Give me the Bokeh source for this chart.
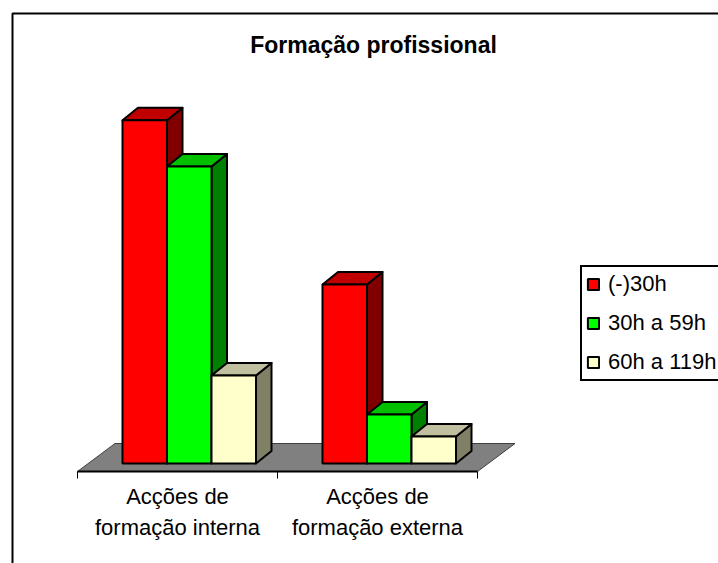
from bokeh.embed import file_html
from bokeh.resources import INLINE
from bokeh.plotting import figure
from bokeh.models import (BoxAnnotation, FixedTicker, Label, Legend, LegendItem,
                          LinearAxis, Range1d)

TITLE = "Formação profissional"
LINE1 = ["Acções de", "Acções de"]
LINE2 = ["formação interna", "formação externa"]
SERIES = ["(-)30h", "30h a 59h", "60h a 119h"]
V_30 = [156, 81.4]
V_59 = [135, 22.3]
V_119 = [40, 12.3]
FRONT = ["#FF0000", "#00FF00", "#FFFFCC"]
TOP = ["#C00000", "#00C000", "#C0C0A0"]
SIDE = ["#800000", "#008000", "#808066"]

W, H = 718, 563
X_PX = 200.0   # px per category
Y_PX = 2.2     # px per value unit
BASE_PX = 463  # page y of value 0
LEFT_PX = 77   # page x of first category boundary

x0 = (0 - LEFT_PX) / X_PX
x1 = (W - LEFT_PX) / X_PX
y1 = BASE_PX / Y_PX
y0 = (BASE_PX - H) / Y_PX

p = figure(width=W, height=H, output_backend="svg", toolbar_location=None,
           x_range=Range1d(x0, x1), y_range=Range1d(y0, y1),
           min_border=0, outline_line_color=None, background_fill_color="white",
           border_fill_color="white", x_axis_type=None, y_axis_type=None)
p.grid.visible = False

dx = 15.5 / X_PX
dy = 12.5 / Y_PX
bw = 44.5 / X_PX
off = 45 / X_PX
cats = [0, 1]

# floor
fy0 = -8 / Y_PX
fy1 = 20 / Y_PX
fdx = 37.5 / X_PX
p.patch([0, 2, 2 + fdx, fdx], [fy0, fy0, fy1, fy1], fill_color="#808080",
        line_color="#404040", line_width=1)

# bars
legend_items = []
series_vals = [V_30, V_59, V_119]
for c in cats:
    for s, vals in enumerate(series_vals):
        l = c + off + s * bw
        r = l + bw
        v = vals[c]
        p.patch([r, r + dx, r + dx, r], [0, dy, v + dy, v], fill_color=SIDE[s],
                line_color="black", line_width=2, line_join="round")
        p.patch([l, r, r + dx, l + dx], [v, v, v + dy, v + dy], fill_color=TOP[s],
                line_color="black", line_width=2, line_join="round")
        q = p.quad(left=[l], right=[r], bottom=[0], top=[v], fill_color=FRONT[s],
                   line_color="black", line_width=2)
        if c == 0:
            legend_items.append(LegendItem(label=SERIES[s], renderers=[q]))

# axes: ticks at category boundaries, then two rows of category labels
ax = LinearAxis(fixed_location=fy0, ticker=FixedTicker(ticks=[0, 1, 2]), bounds=(0, 2),
                major_tick_in=0, major_tick_out=7, minor_tick_out=0, minor_tick_in=0,
                axis_line_color="black", axis_line_width=2, major_tick_line_color="black",
                major_label_text_font_size="0px", major_label_text_color=None)
p.add_layout(ax, "below")
for lines, standoff in ((LINE1, 12), (LINE2, 43)):
    a = LinearAxis(fixed_location=fy0, ticker=FixedTicker(ticks=[0.5, 1.5]),
                   major_label_overrides={0.5: lines[0], 1.5: lines[1]},
                   major_tick_in=0, major_tick_out=0, minor_tick_in=0, minor_tick_out=0,
                   axis_line_color=None, major_tick_line_color=None,
                   major_label_standoff=standoff, major_label_orientation="horizontal",
                   major_label_text_font="Liberation Sans",
                   major_label_text_font_size="22px", major_label_text_color="black")
    p.add_layout(a, "below")

p.add_layout(Label(x=373, y=H - 44.5, x_units="screen", y_units="screen", text=TITLE,
                   text_font="Liberation Sans", text_font_style="bold",
                   text_font_size="23px", text_align="center", text_baseline="middle",
                   text_color="black"))

legend = Legend(items=legend_items, location=(580, H - 381), orientation="vertical",
                glyph_width=14, glyph_height=14, label_standoff=8, padding=4, margin=0,
                spacing=13, label_text_font="Liberation Sans", label_text_font_size="22px",
                label_text_color="black", border_line_color="black", border_line_width=2,
                border_line_alpha=1,
                background_fill_color="white", background_fill_alpha=1)
p.add_layout(legend, "center")

p.add_layout(BoxAnnotation(left=12, right=W + 50, top=13, bottom=H + 50,
                           left_units="canvas", right_units="canvas",
                           top_units="canvas", bottom_units="canvas",
                           fill_color=None, fill_alpha=0, line_color="black", line_width=2,
                           line_alpha=1))

open("out.html", "w").write(file_html(p, INLINE))
